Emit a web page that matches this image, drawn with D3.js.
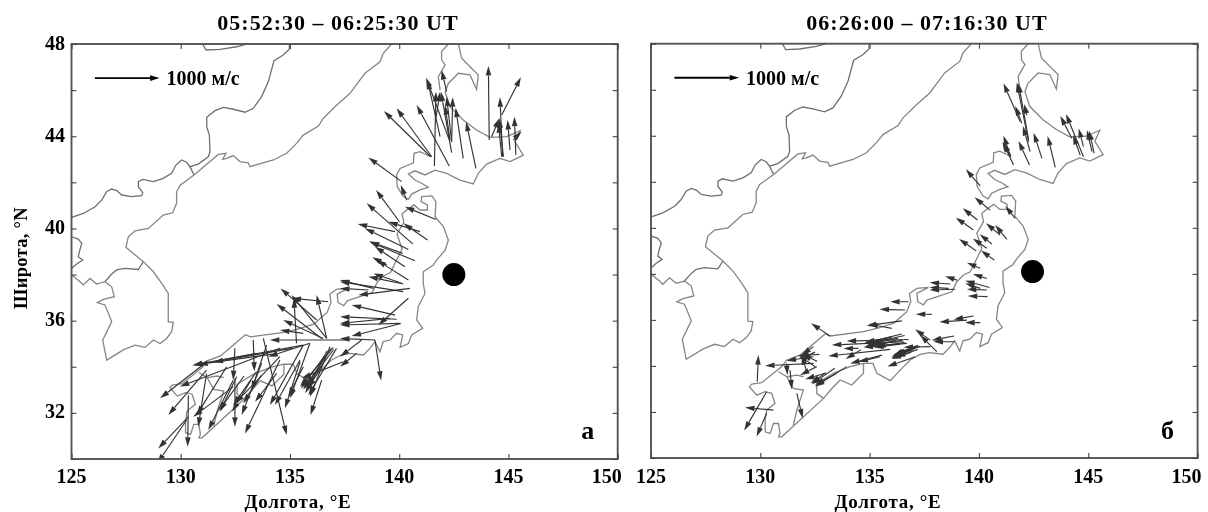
<!DOCTYPE html>
<html>
<head>
<meta charset="utf-8">
<script src="https://cdn.jsdelivr.net/npm/d3@7"></script>
<style>
  html, body { margin: 0; padding: 0; background: #fff; }
  text { font-family: "Liberation Serif", serif; font-weight: bold; fill: #000; }
</style>
</head>
<body>
<svg id="chart" width="1208" height="512"></svg>
<script>
// coast polylines, [lon, lat]
const coastMainland = [[125.01,40.48],[125.54,40.65],[126.08,40.94],[126.38,41.23],[126.61,41.59],[126.84,41.71],[127.07,41.64],[127.30,41.45],[127.75,41.38],[128.21,41.42],[128.26,41.55],[128.06,41.81],[128.06,42.03],[128.26,42.13],[128.75,42.03],[129.20,42.17],[129.58,42.39],[129.78,42.75],[130.04,42.97],[130.27,42.87],[130.42,42.68],[130.80,42.79],[131.26,43.11],[131.34,43.33],[131.31,44.05],[131.19,44.41],[131.19,44.82],[131.57,45.11],[131.95,45.25],[132.41,45.17],[132.94,45.04],[133.32,45.21],[133.70,45.72],[134.01,46.37],[134.27,47.28],[134.69,47.52],[134.97,47.77],[134.97,48.00]];
const coastBorder = [[130.42,42.68],[130.61,42.32]];
const coastLake = [[131.00,48.00],[131.16,47.74],[131.80,47.77],[132.56,47.88],[133.02,48.00]];
const coastKorea = [[139.65,48.00],[139.27,47.60],[139.12,47.23],[138.43,46.73],[137.75,45.86],[137.14,45.35],[136.53,44.78],[136.30,44.44],[135.61,44.05],[135.30,43.69],[134.85,43.26],[134.24,42.97],[133.17,42.68],[133.09,42.85],[132.71,42.90],[132.41,43.16],[132.10,43.04],[131.92,43.00],[132.07,43.26],[131.72,43.21],[130.61,42.32],[129.97,41.88],[129.81,41.59],[129.81,41.09],[129.63,40.68],[129.20,40.58],[128.52,40.00],[127.91,39.90],[127.60,39.64],[127.49,39.18],[128.29,38.56],[128.75,38.12],[129.13,37.62],[129.43,37.18],[129.43,35.95],[129.66,35.93],[129.58,35.52],[129.36,35.23],[129.05,35.01],[128.75,35.16],[128.36,34.84],[127.91,34.94],[127.37,34.73],[126.61,34.29],[126.43,35.16],[126.73,35.74],[126.84,35.95],[126.69,36.32],[126.53,36.68],[126.18,36.78],[126.46,36.92],[126.96,37.04],[126.84,37.47],[126.53,37.69],[126.15,37.59],[125.85,37.83],[125.54,37.55],[125.39,37.69],[125.01,37.98]];
const coastKoreaBorder = [[126.53,37.69],[126.84,38.02],[127.07,38.20],[127.45,38.27],[128.06,38.22],[128.29,38.56]];
const coastShandong = [[125.01,39.64],[125.31,39.54],[125.47,39.35],[125.36,38.99],[125.31,38.77],[125.51,38.63],[125.24,38.46],[125.01,38.27]];
const coastSakhalin = [[142.71,48.00],[142.86,47.38],[143.32,46.94],[143.62,46.66],[143.54,46.03],[143.24,46.66],[142.71,46.73],[142.25,46.29],[142.10,45.93]];
const coastSakhalinWest = [[142.25,48.00],[141.94,47.67],[141.94,47.31],[142.10,47.09],[141.79,46.58],[141.87,46.00]];
const coastHokkaido = [[142.10,45.93],[142.32,45.28],[142.93,44.70],[143.54,44.27],[144.15,43.95],[144.92,43.98],[145.53,44.24],[145.30,43.76],[145.68,43.18],[145.07,42.90],[144.61,43.04],[144.00,42.79],[143.62,42.39],[143.39,41.93],[142.78,42.10],[142.17,42.39],[141.64,42.53],[141.18,42.32],[140.72,42.50],[140.42,42.36],[140.72,42.10],[141.03,41.96],[141.33,41.78],[140.95,41.67],[140.57,41.49],[140.42,41.26],[140.19,41.38],[139.91,41.81],[139.88,42.32],[140.04,42.60],[140.65,42.85],[140.68,43.26],[140.95,43.33],[141.44,43.11]];
const coastHonshu = [[140.42,40.85],[140.68,41.02],[140.95,40.80],[141.29,40.80],[141.29,41.02],[141.00,41.16],[141.03,41.38],[141.49,41.41],[141.68,41.16],[141.64,40.51],[142.02,40.08],[142.25,39.50],[142.10,39.06],[141.71,38.63],[141.56,38.41],[141.10,38.12],[141.10,37.62],[141.18,37.18],[140.87,36.61],[140.80,36.03],[141.07,35.67],[140.57,35.38],[140.42,35.01],[140.04,34.84],[140.16,35.38],[139.88,35.45],[139.58,35.16],[139.27,35.09],[139.12,34.65],[138.89,35.09],[138.66,34.80],[138.36,34.51],[137.75,34.58],[137.31,34.50],[136.85,34.26],[136.55,33.97],[135.94,33.36],[135.33,33.68],[135.15,34.11],[134.72,34.11],[134.72,33.68],[134.18,33.17],[133.65,33.39],[133.27,33.02],[132.89,32.59],[130.98,30.92],[130.83,30.92],[130.90,31.07],[130.83,31.50],[130.60,31.50],[130.45,31.07],[130.22,31.14],[130.22,31.65],[130.29,32.08],[130.67,32.37],[130.52,32.81],[130.22,32.88],[129.84,32.73],[129.50,33.10],[129.61,33.21],[130.06,33.27],[130.60,33.68],[130.98,33.97],[131.21,34.26],[131.82,34.47],[132.96,35.39],[133.19,35.30],[134.72,35.49],[135.33,35.63],[136.09,35.85],[136.70,36.36],[136.88,36.79],[136.82,37.15],[137.16,37.37],[137.69,37.41],[137.16,37.15],[137.20,36.79],[137.46,36.65],[137.62,36.86],[138.76,37.22],[138.99,37.66],[139.29,37.95],[139.60,38.09],[139.83,38.53],[140.13,39.11],[139.90,39.76],[140.21,40.27],[140.13,40.63],[140.42,40.85]];
const coastShikoku = [[132.89,32.59],[132.58,32.81],[132.58,33.24],[133.34,33.68],[134.11,33.97],[134.72,34.11]];
const coastKyushu = [[131.51,31.43],[131.67,32.08],[131.97,32.95],[131.51,33.02],[131.21,33.53],[130.83,33.75]];
const coastKyushuNorth = [[131.21,33.53],[131.67,33.60],[131.97,33.53]];

const coastDark = [coastMainland, coastBorder, coastLake, coastKoreaBorder, coastShandong];
const coastLight = [coastKorea, coastSakhalin, coastSakhalinWest, coastHokkaido, coastHonshu, coastShikoku, coastKyushu, coastKyushuNorth];

// arrows: tail lon, tail lat, head lon, head lat
const arrowsA = [[144.12,43.84,144.08,47.05],[144.69,44.92,145.57,46.56],[144.73,43.11,144.61,45.69],[141.61,42.71,141.68,45.93],[142.29,42.71,140.80,45.35],[141.49,43.11,139.88,45.21],[141.44,43.11,139.30,45.09],[143.51,42.61,143.06,44.63],[142.93,43.04,142.58,45.24],[142.40,43.29,141.91,45.93],[142.40,43.76,142.17,45.72],[142.29,43.84,141.23,46.54],[142.40,43.76,142.45,45.69],[142.32,43.84,142.10,45.35],[142.17,45.93,141.94,46.87],[145.07,43.40,144.96,44.70],[145.34,43.19,145.27,44.85],[144.77,43.11,144.58,44.78],[144.69,43.11,144.54,44.56],[144.23,43.98,144.58,44.78],[145.22,43.84,145.60,44.20],[141.87,43.98,141.29,46.44],[141.68,44.78,141.87,45.93],[140.11,42.03,138.59,43.08],[140.34,41.23,140.07,41.88],[140.01,40.29,138.94,41.67],[140.62,39.33,138.51,41.09],[141.68,40.39,140.26,40.94],[141.30,39.50,140.19,40.22],[139.81,39.86,138.10,40.19],[140.42,39.09,138.43,40.00],[140.72,38.60,138.62,39.43],[140.16,38.92,138.66,39.43],[140.95,39.86,139.50,40.29],[140.26,38.34,138.89,39.21],[139.43,38.41,138.77,38.75],[140.42,37.76,138.97,38.63],[140.11,37.62,138.82,38.05],[140.19,37.59,138.59,37.91],[140.49,37.40,138.13,37.11],[140.19,37.26,137.29,37.69],[138.82,37.40,137.29,37.76],[138.59,37.33,137.29,37.40],[140.42,36.97,139.04,35.81],[139.81,36.24,137.82,36.68],[139.88,36.06,137.29,36.17],[140.08,35.88,137.82,35.33],[140.04,35.88,137.29,35.81],[139.58,36.10,137.29,35.88],[138.89,35.16,139.17,33.40],[138.89,35.16,137.29,35.23],[138.28,35.16,137.29,34.44],[138.05,34.58,137.29,34.00],[136.75,36.82,135.07,36.97],[136.22,36.03,134.57,37.40],[136.68,35.23,136.22,37.11],[136.68,35.23,135.07,37.11],[135.30,35.02,135.18,36.97],[136.45,35.23,134.39,36.72],[136.52,35.23,134.69,36.03],[135.61,35.45,134.54,35.59],[137.74,35.16,134.08,35.16],[135.91,35.02,134.01,34.44],[135.61,34.94,130.57,34.07],[134.54,34.80,129.96,33.14],[132.48,34.80,132.40,33.42],[133.32,35.16,133.37,33.79],[133.78,35.23,134.85,31.04],[133.93,34.94,133.24,32.99],[135.61,34.94,134.08,32.34],[135.91,35.02,135.00,32.63],[135.46,34.22,134.77,32.20],[135.46,34.29,134.31,32.34],[134.54,34.29,132.94,31.11],[133.70,34.15,132.79,31.91],[133.47,33.79,132.40,32.34],[132.48,33.50,132.48,31.40],[132.40,33.42,131.26,31.26],[132.56,33.57,131.79,32.05],[131.18,33.71,130.80,31.40],[131.11,34.15,129.05,32.63],[131.18,33.86,129.43,31.91],[130.35,32.77,130.32,30.53],[130.35,31.83,128.97,30.46],[130.27,31.69,128.93,29.81],[132.40,33.13,130.57,31.83],[136.98,34.84,135.46,33.14],[137.13,34.80,135.84,32.77],[136.83,34.87,135.91,32.70],[136.45,33.42,135.94,31.91],[137.44,34.22,135.53,33.50],[136.52,34.15,135.84,33.06],[134.39,33.71,133.40,32.48],[133.70,33.64,132.86,32.41],[132.10,34.00,130.73,31.91],[135.61,34.00,134.92,32.70],[133.47,34.58,130.54,34.07],[134.54,34.44,132.48,32.41],[136.90,34.80,135.60,33.00],[136.70,34.70,135.70,32.85],[137.00,34.75,135.75,33.20],[136.60,34.50,135.50,33.05],[132.90,33.60,131.75,32.10],[133.20,33.40,132.35,32.05],[134.20,34.55,130.80,34.10],[135.10,34.80,131.50,34.20]];

const arrowsB = [[143.49,42.63,143.14,43.99],[142.88,43.02,142.50,44.13],[142.31,42.73,141.81,43.77],[141.58,42.73,141.08,43.74],[141.46,43.09,141.12,44.00],[141.43,43.16,141.08,43.67],[142.34,43.31,142.01,44.42],[142.27,43.74,141.73,46.31],[142.27,43.82,141.81,46.28],[141.89,44.61,141.12,46.28],[141.96,44.54,141.66,45.29],[142.19,44.90,142.07,45.38],[144.25,43.89,143.72,44.86],[144.78,43.09,143.98,44.95],[144.63,43.16,144.30,44.03],[144.78,43.53,144.56,44.32],[145.17,43.31,144.94,44.25],[145.27,43.24,145.04,44.22],[140.06,41.82,139.40,42.54],[140.51,40.77,139.80,41.33],[139.93,40.34,139.26,40.85],[139.75,39.91,138.94,40.44],[141.66,40.41,141.20,40.95],[141.28,39.50,140.74,40.12],[140.97,39.69,140.32,40.20],[140.59,39.30,140.03,39.72],[139.87,39.00,139.09,39.52],[140.36,39.11,139.72,39.54],[140.70,38.60,140.09,39.01],[140.06,38.24,139.45,38.48],[140.36,37.80,139.72,37.99],[140.48,37.41,139.37,37.70],[140.06,37.37,139.37,37.59],[140.36,37.30,139.45,37.33],[140.39,37.01,139.49,37.04],[138.99,37.73,138.45,37.90],[138.68,37.56,137.74,37.62],[138.91,37.33,137.74,37.30],[138.61,37.37,137.74,37.41],[139.75,36.17,138.84,36.02],[140.06,35.88,139.37,35.89],[139.45,35.99,138.19,35.91],[137.84,36.24,137.11,36.25],[138.87,35.30,137.84,35.12],[138.87,35.05,137.92,35.05],[138.07,34.62,137.31,35.34],[136.78,36.79,135.94,36.79],[136.62,36.43,135.45,36.46],[136.47,35.96,134.87,35.75],[136.01,35.63,134.95,35.82],[137.77,35.12,137.08,35.59],[137.77,34.84,136.55,34.81],[133.19,35.30,132.32,35.85],[136.47,35.39,134.72,34.98],[136.78,35.15,133.95,35.08],[136.70,34.98,134.72,34.81],[136.55,35.05,133.27,34.91],[135.94,34.72,133.11,34.43],[137.23,34.86,136.09,34.47],[137.16,34.81,136.01,34.40],[137.08,34.40,135.81,33.97],[135.56,34.47,134.11,34.11],[135.48,34.40,134.49,34.18],[134.49,34.76,133.80,34.76],[133.95,33.97,132.50,33.10],[133.49,33.68,132.50,33.17],[132.96,33.68,132.05,33.42],[132.58,33.97,131.82,33.60],[132.43,34.11,130.22,34.01],[132.43,34.40,131.20,34.23],[132.43,34.84,131.89,34.47],[132.50,33.97,131.74,34.47],[132.12,33.75,131.89,34.47],[131.20,34.11,131.24,33.60],[131.36,33.82,131.44,32.98],[131.67,32.81,131.94,31.72],[129.86,33.31,129.91,34.47],[130.60,32.08,129.30,32.19],[130.29,32.88,129.26,31.19],[130.29,31.94,129.83,30.93],[136.60,35.32,135.00,34.98],[136.30,35.20,134.90,34.95],[136.50,35.12,135.10,34.88],[136.20,35.10,134.80,34.85],[136.60,35.02,135.30,34.85],[136.00,35.25,134.80,35.02],[136.40,34.95,135.20,34.80],[135.90,35.18,134.90,34.93],[137.20,34.90,136.10,34.48],[137.10,34.78,136.05,34.42],[137.30,34.85,136.20,34.52],[137.00,34.72,136.00,34.35],[137.20,34.72,136.20,34.38],[136.90,34.60,136.00,34.30],[132.70,34.50,131.75,34.45],[132.50,34.60,131.85,34.30],[132.60,34.20,131.90,34.50],[133.00,33.70,132.30,33.25],[133.40,33.90,132.35,33.20],[134.60,34.70,133.90,34.30]];

const legendArrow = [126.07, 46.52, 129.03, 46.52];
const epicenterA = [142.5, 38.0];
const epicenterB = [142.45, 38.1];
const xTicks = [125, 130, 135, 140, 145, 150];
const yTicks = [30, 32, 34, 36, 38, 40, 42, 44, 46, 48];
const yLabels = [32, 36, 40, 44, 48];

const svg = d3.select("#chart");
const defs = svg.append("defs");
const blur = (id, sd) => defs.append("filter").attr("id", id)
  .attr("filterUnits", "userSpaceOnUse")
  .attr("x", 0).attr("y", 0).attr("width", 1208).attr("height", 512)
  .append("feGaussianBlur").attr("stdDeviation", sd);
blur("soft", 0.5);
blur("softText", 0.3);

function drawPanel(o) {
  const x = d3.scaleLinear().domain([125, 150]).range([o.left, o.right]);
  const y = d3.scaleLinear().domain([30, 48]).range([o.bottom, o.top]);
  const g = svg.append("g").attr("filter", "url(#softText)");

  defs.append("clipPath").attr("id", o.id)
    .append("rect")
    .attr("x", o.left).attr("y", o.top)
    .attr("width", o.right - o.left).attr("height", o.bottom - o.top);

  const marks = svg.append("g").attr("filter", "url(#soft)");
  const plot = marks.append("g").attr("clip-path", `url(#${o.id})`);

  const line = d3.line().x((d) => x(d[0])).y((d) => y(d[1]));
  plot.selectAll("path.dark").data(coastDark).join("path")
    .attr("class", "dark").attr("d", line)
    .attr("fill", "none").attr("stroke", "#6e6e6e").attr("stroke-width", 1.3);
  plot.selectAll("path.light").data(coastLight).join("path")
    .attr("class", "light").attr("d", line)
    .attr("fill", "none").attr("stroke", "#858585").attr("stroke-width", 1.3);

  // arrow shafts + heads
  const arrow = (sel, data, width, color) => {
    data.forEach((d) => {
      const x0 = x(d[0]), y0 = y(d[1]), x1 = x(d[2]), y1 = y(d[3]);
      const a = Math.atan2(y1 - y0, x1 - x0);
      const len = 9.5, hw = 2.8;
      const bx = x1 - len * Math.cos(a), by = y1 - len * Math.sin(a);
      sel.append("line")
        .attr("x1", x0).attr("y1", y0).attr("x2", bx).attr("y2", by)
        .attr("stroke", color).attr("stroke-width", width);
      sel.append("path")
        .attr("d", d3.line()([
          [x1, y1],
          [bx + hw * Math.sin(a), by - hw * Math.cos(a)],
          [bx - hw * Math.sin(a), by + hw * Math.cos(a)]
        ]) + "Z")
        .attr("fill", color);
    });
  };
  arrow(plot.append("g"), o.arrows, 1.15, "#333");
  arrow(plot.append("g"), [legendArrow], 1.9, "#000");

  plot.append("circle")
    .attr("cx", x(o.epicenter[0])).attr("cy", y(o.epicenter[1]))
    .attr("r", 11.5).attr("fill", "#000");

  // frame and inward ticks on all sides
  const axes = marks.append("g");
  axes.append("rect")
    .attr("x", o.left).attr("y", o.top)
    .attr("width", o.right - o.left).attr("height", o.bottom - o.top)
    .attr("fill", "none").attr("stroke", "#555").attr("stroke-width", 1.9);
  const tick = (axis, tx, ty) => {
    const a = axes.append("g").attr("transform", `translate(${tx},${ty})`).call(axis);
    a.select(".domain").remove();
    a.selectAll("line").attr("stroke", "#444").attr("stroke-width", 1.1);
    a.selectAll("text").remove();
  };
  tick(d3.axisBottom(x).tickValues(xTicks).tickSize(-5), 0, o.bottom);
  tick(d3.axisTop(x).tickValues(xTicks).tickSize(-5), 0, o.top);
  tick(d3.axisLeft(y).tickValues(yTicks).tickSize(-5), o.left, 0);
  tick(d3.axisRight(y).tickValues(yTicks).tickSize(-5), o.right, 0);

  // labels, the last x label sits left of its tick
  xTicks.forEach((t) => {
    g.append("text").attr("x", x(t) - (t === 150 ? 11 : 0)).attr("y", 483)
      .attr("text-anchor", "middle").attr("font-size", 20).text(t);
  });
  if (o.showY) {
    yLabels.forEach((t) => {
      g.append("text").attr("x", o.left - 6.5).attr("y", y(t) + 5.5)
        .attr("text-anchor", "end").attr("font-size", 20).text(t);
    });
    g.append("text")
      .attr("transform", `translate(27,258) rotate(-90)`)
      .attr("text-anchor", "middle").attr("font-size", 18.5)
      .style("letter-spacing", "0.3px").text("Широта, °N");
  }
  g.append("text").attr("x", o.titleX).attr("y", 30)
    .attr("text-anchor", "middle").attr("font-size", 22)
    .style("letter-spacing", "1px").text(o.title);
  g.append("text").attr("x", o.xLabelX).attr("y", 508)
    .attr("text-anchor", "middle").attr("font-size", 19)
    .style("letter-spacing", "0.7px").text("Долгота, °E");
  g.append("text").attr("x", x(legendArrow[2]) + 7).attr("y", 85)
    .attr("font-size", 20).text("1000 м/с");
  g.append("text").attr("x", o.right - 30).attr("y", 439)
    .attr("text-anchor", "middle").attr("font-size", 26).text(o.letter);
}

drawPanel({
  id: "clipA", left: 71.5, right: 617.7, top: 44, bottom: 459,
  arrows: arrowsA, epicenter: epicenterA, showY: true,
  title: "05:52:30 – 06:25:30 UT", titleX: 338, xLabelX: 298, letter: "а"
});
drawPanel({
  id: "clipB", left: 651, right: 1197.6, top: 43.7, bottom: 458,
  arrows: arrowsB, epicenter: epicenterB, showY: false,
  title: "06:26:00 – 07:16:30 UT", titleX: 927, xLabelX: 888, letter: "б"
});
</script>
</body>
</html>
